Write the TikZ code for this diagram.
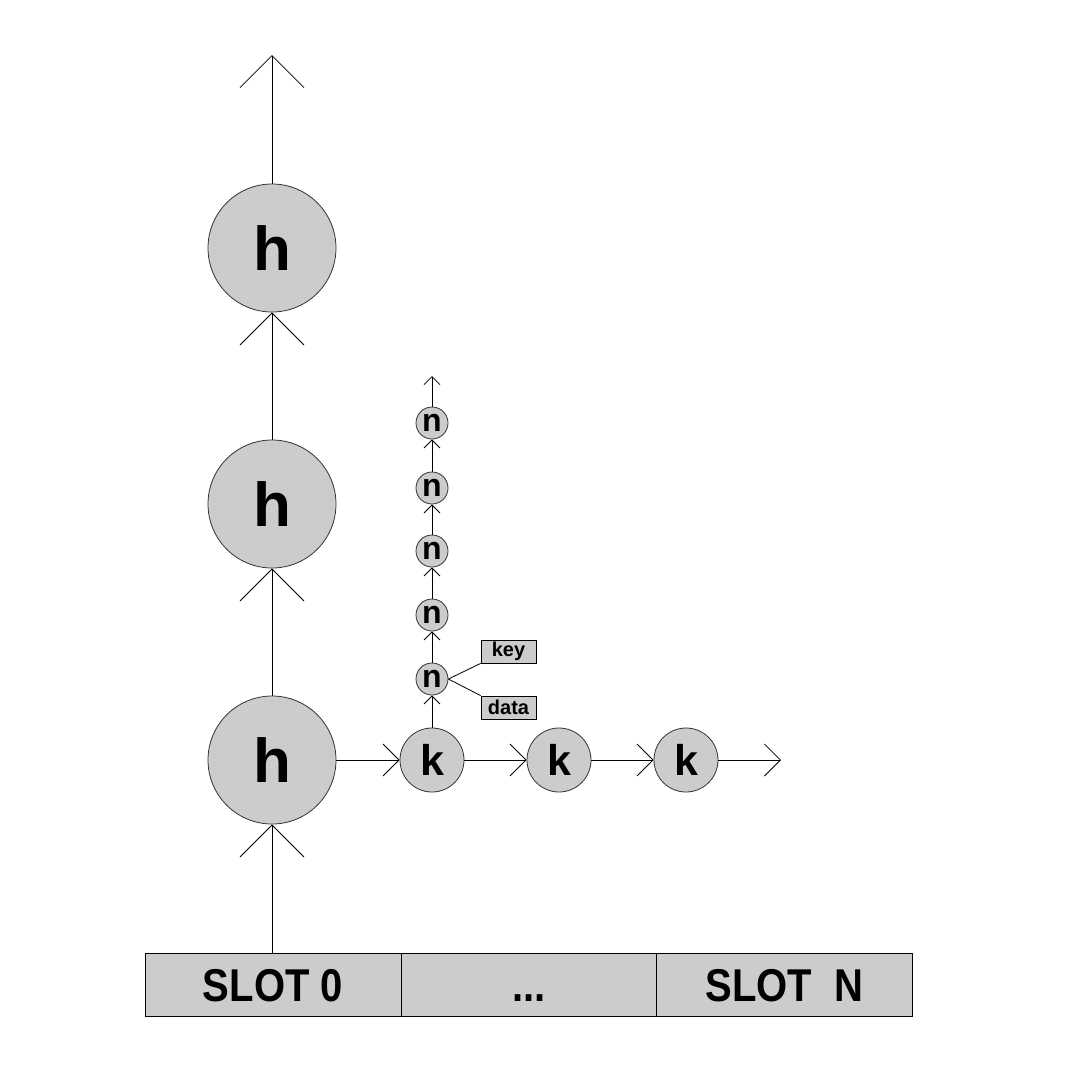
\documentclass[tikz,border=0pt]{standalone}
\usepackage{fontspec}
\setmainfont{Liberation Sans}
\usetikzlibrary{arrows.meta}
\tikzset{%
  tipBig/.tip={Straight Barb[length=32pt,width=64pt]},
  tipMid/.tip={Straight Barb[length=16pt,width=32pt]},
  tipSmall/.tip={Straight Barb[length=8pt,width=16pt]},
  hnode/.style={circle, draw=black!80, fill=black!20, minimum size=128pt, inner sep=0pt, font=\fontsize{62}{62}\selectfont\bfseries},
  knode/.style={circle, draw=black!80, fill=black!20, minimum size=64pt, inner sep=0pt, font=\fontsize{43}{43}\selectfont\bfseries},
  nnode/.style={circle, draw=black!80, fill=black!20, minimum size=32pt, inner sep=0pt, font=\fontsize{32}{32}\selectfont\bfseries},
  fieldbox/.style={rectangle, draw, fill=black!20, minimum width=55pt, minimum height=23pt, inner sep=0pt, font=\fontsize{20}{20}\selectfont\bfseries},
  slotcell/.style={rectangle, draw, fill=black!20, minimum width=256pt, minimum height=63pt, inner sep=0pt, text height=34pt, text depth=0pt, font=\fontsize{46}{46}\selectfont\bfseries}
}

\begin{document}
\begin{tikzpicture}[x=1pt,y=-1pt, line width=0.8pt]
\useasboundingbox (0,0) rectangle (1080,1080);
% slot array
\node[slotcell] (slot0) at (273,984.5) {\scalebox{0.87}[1]{SLOT 0}};
\node[slotcell] (slotdots) at (529,984.5) {\scalebox{0.87}[1]{...}};
\node[slotcell] (slotN) at (784.5,984.5) {\scalebox{0.87}[1]{SLOT~~N}};
% h column
\node[hnode] (h1) at (272,760) {h};
\node[hnode] (h2) at (272,504) {h};
\node[hnode] (h3) at (272,248) {h};
\coordinate (htop) at (272,55);
\draw[-tipBig] (h1 |- slot0.north) -- (h1.south);
\draw[-tipBig] (h1.north) -- (h2.south);
\draw[-tipBig] (h2.north) -- (h3.south);
\draw[-tipBig] (h3.north) -- (htop);
% k row
\node[knode] (k1) at (432,760) {k};
\node[knode] (k2) at (559,760) {k};
\node[knode] (k3) at (686,760) {k};
\coordinate (kend) at (781,760);
\draw[-tipMid] (h1.east) -- (k1.west);
\draw[-tipMid] (k1.east) -- (k2.west);
\draw[-tipMid] (k2.east) -- (k3.west);
\draw[-tipMid] (k3.east) -- (kend);
% n column
\node[nnode] (n1) at (432,679) {n};
\node[nnode] (n2) at (432,615) {n};
\node[nnode] (n3) at (432,551) {n};
\node[nnode] (n4) at (432,488) {n};
\node[nnode] (n5) at (432,423) {n};
\coordinate (ntop) at (432,376);
\draw[-tipSmall] (k1.north) -- (n1.south);
\draw[-tipSmall] (n1.north) -- (n2.south);
\draw[-tipSmall] (n2.north) -- (n3.south);
\draw[-tipSmall] (n3.north) -- (n4.south);
\draw[-tipSmall] (n4.north) -- (n5.south);
\draw[-tipSmall] (n5.north) -- (ntop);
% key / data fields
\node[fieldbox] (key) at (508.5,651.5) {key};
\node[fieldbox] (data) at (508.5,707.5) {data};
\draw (n1.east) -- (key.south west);
\draw (n1.east) -- (data.north west);
\end{tikzpicture}
\end{document}
